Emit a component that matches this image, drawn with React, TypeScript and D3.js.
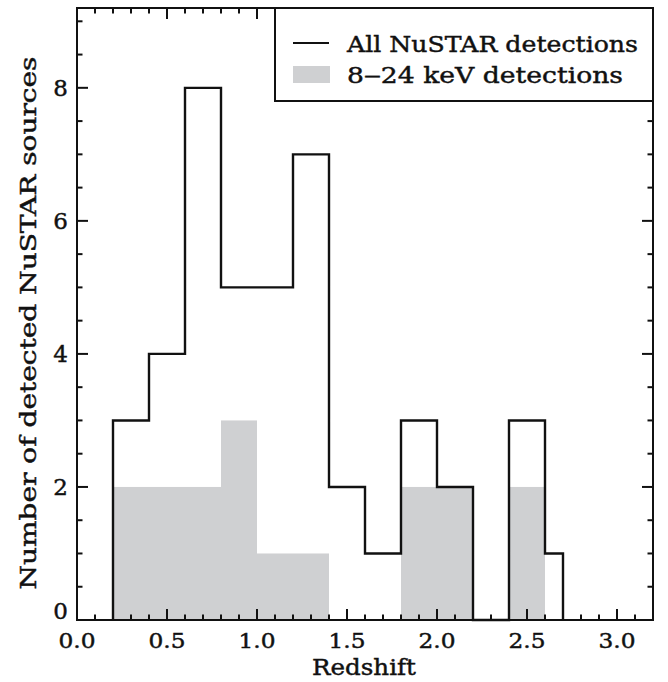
import React from "react";
import * as d3 from "d3";

const binEdges = [0.2, 0.4, 0.6, 0.8, 1.0, 1.2, 1.4, 1.6, 1.8, 2.0, 2.2, 2.4, 2.6, 2.7];
const allCounts = [3, 4, 8, 5, 5, 7, 2, 1, 3, 2, 0, 3, 1];
const hardCounts = [2, 2, 2, 3, 1, 1, 0, 0, 2, 2, 0, 2, 0];
const xTickLabels = ["0.0", "0.5", "1.0", "1.5", "2.0", "2.5", "3.0"];
const yTickLabels = ["0", "2", "4", "6", "8"];
const legendLabels = ["All NuSTAR detections", "8\u201224 keV detections"];

const W = 668, H = 682;
const L = 77, R = 653, T = 8, B = 620;
const FONT = "'DejaVu Serif', serif";
const txt = { fontFamily: FONT, fill: "#111", stroke: "#111", strokeWidth: 0.45 } as const;

export default function App() {
  const x = d3.scaleLinear().domain([0, 3.2]).range([L, R]);
  const y = d3.scaleLinear().domain([0, 9.2]).range([B, T]);

  const pts: [number, number][] = [];
  pts.push([binEdges[0], 0]);
  allCounts.forEach((c, i) => {
    pts.push([binEdges[i], c]);
    pts.push([binEdges[i + 1], c]);
  });
  pts.push([binEdges[binEdges.length - 1], 0]);
  const line = d3.line<[number, number]>().x(d => x(d[0])).y(d => y(d[1]));

  const xMinor = d3.range(0, 3.2001, 0.1);
  const yMinor = d3.range(0, 9.2001, 0.5);
  const isMajorX = (v: number) => Math.abs(v / 0.5 - Math.round(v / 0.5)) < 1e-6;
  const isMajorY = (v: number) => Math.abs(v / 2 - Math.round(v / 2)) < 1e-6;

  return (
    <svg width={W} height={H} style={{ position: "absolute", left: 0, top: 0 }}>
      <rect x={0} y={0} width={W} height={H} fill="#fff" />
      {hardCounts.map((c, i) =>
        c > 0 ? (
          <rect key={i} x={x(binEdges[i])} y={y(c)} width={x(binEdges[i + 1]) - x(binEdges[i])} height={y(0) - y(c)} fill="#cfd0d2" />
        ) : null
      )}
      <path d={line(pts) || ""} fill="none" stroke="#111" strokeWidth={2.4} strokeLinejoin="miter" />
      {xMinor.map((v, i) => {
        const len = isMajorX(v) ? 11 : 5.5;
        return (
          <g key={"xt" + i}>
            <line x1={x(v)} x2={x(v)} y1={B} y2={B - len} stroke="#111" strokeWidth={2} />
            <line x1={x(v)} x2={x(v)} y1={T} y2={T + len} stroke="#111" strokeWidth={2} />
          </g>
        );
      })}
      {yMinor.map((v, i) => {
        const len = isMajorY(v) ? 11 : 5.5;
        return (
          <g key={"yt" + i}>
            <line x1={L} x2={L + len} y1={y(v)} y2={y(v)} stroke="#111" strokeWidth={2} />
            <line x1={R} x2={R - len} y1={y(v)} y2={y(v)} stroke="#111" strokeWidth={2} />
          </g>
        );
      })}
      <rect x={275} y={T} width={R - 275} height={93} fill="#fff" stroke="#111" strokeWidth={2} />
      <line x1={293} x2={329} y1={43} y2={43} stroke="#111" strokeWidth={2} />
      <rect x={293} y={66} width={37} height={17} fill="#cfd0d2" />
      <text x={347} y={52} fontSize={23} textLength={291} lengthAdjust="spacingAndGlyphs" {...txt}>{legendLabels[0]}</text>
      <text x={347} y={83} fontSize={23} textLength={276} lengthAdjust="spacingAndGlyphs" {...txt}>{legendLabels[1]}</text>
      <rect x={L} y={T} width={R - L} height={B - T} fill="none" stroke="#111" strokeWidth={2} />
      {xTickLabels.map((t, i) => (
        <text key={"xl" + i} x={x(+t)} y={648} textAnchor="middle" fontSize={21} textLength={37} lengthAdjust="spacingAndGlyphs" {...txt}>{t}</text>
      ))}
      {yTickLabels.map((t, i) => (
        <text key={"yl" + i} x={60.5} y={+t === 0 ? y(0) - 1 : y(+t) + 8} textAnchor="middle" fontSize={23} {...txt}>{t}</text>
      ))}
      <text x={364} y={675} textAnchor="middle" fontSize={23} textLength={104} lengthAdjust="spacingAndGlyphs" {...txt}>Redshift</text>
      <text transform={`translate(36, 323) rotate(-90)`} textAnchor="middle" fontSize={23} textLength={533} lengthAdjust="spacingAndGlyphs" {...txt}>Number of detected NuSTAR sources</text>
    </svg>
  );
}
